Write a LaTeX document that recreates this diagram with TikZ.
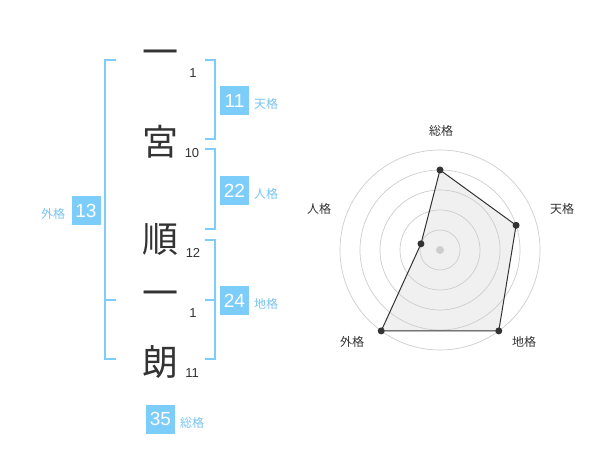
\documentclass[tikz,border=0pt]{standalone}
\usepackage{fontspec}
\setmainfont{Liberation Sans}
\newfontfamily\cjk{Noto Sans CJK JP}
\usetikzlibrary{calc}
\definecolor{kblue}{RGB}{125,205,250}
\definecolor{klabel}{RGB}{120,195,240}
\definecolor{kdark}{RGB}{51,51,51}
\definecolor{kring}{RGB}{205,205,205}
\tikzset{
  bigchar/.style={inner sep=0pt, text=kdark, font=\cjk\fontsize{36}{36}\selectfont},
  strokenum/.style={inner sep=0pt, text=kdark, font=\fontsize{13}{13}\selectfont},
  kakubox/.style={fill=kblue, text=white, minimum size=29pt, inner sep=0pt, font=\fontsize{19}{19}\selectfont},
  kakulabel/.style={inner sep=0pt, text=klabel, font=\cjk\fontsize{12}{12}\selectfont},
  bracket/.style={draw=kblue, line width=2pt},
  ring/.style={draw=kring, line width=0.7pt},
  axislabel/.style={inner sep=0pt, text=kdark, font=\cjk\fontsize{12}{12}\selectfont},
  datadot/.style={circle, fill=kdark, inner sep=0pt, minimum size=7pt},
}
\begin{document}
\begin{tikzpicture}[x=1pt,y=-1pt]
\useasboundingbox (0,0) rectangle (600,470);
% characters
\node[bigchar] (c1) at (160,58) {一};
\node[bigchar] (c2) at (160,142) {宮};
\node[bigchar] (c3) at (160,239) {順};
\node[bigchar] (c4) at (160,299) {一};
\node[bigchar] (c5) at (160,362) {朗};
% stroke counts
\node[strokenum] (n1) at (193,73) {1};
\node[strokenum] (n2) at (192,153) {10};
\node[strokenum] (n3) at (193,253) {12};
\node[strokenum] (n4) at (193,313) {1};
\node[strokenum] (n5) at (192,373) {11};
% brackets
\draw[bracket] (116,60) -- (105,60) -- (105,359) -- (116,359);
\draw[bracket] (105,300) -- (116,300);
\draw[bracket] (205,60) -- (215,60) -- (215,139) -- (205,139);
\draw[bracket] (205,149) -- (215,149) -- (215,229) -- (205,229);
\draw[bracket] (205,240) -- (215,240) -- (215,359) -- (205,359);
\draw[bracket] (205,300) -- (215,300);
% boxes and labels
\node[kakubox] (ten) at (234.5,100.5) {11};
\node[kakulabel] (tenl) at (266,104) {天格};
\node[kakubox] (jin) at (234.5,190.5) {22};
\node[kakulabel] (jinl) at (266,194) {人格};
\node[kakubox] (gai) at (86,210.5) {13};
\node[kakulabel] (gail) at (53,214) {外格};
\node[kakubox] (chi) at (234.5,300.5) {24};
\node[kakulabel] (chil) at (266,304) {地格};
\node[kakubox] (so) at (160.5,419) {35};
\node[kakulabel] (sol) at (192,423) {総格};
% radar
\coordinate (ctr) at (440,250);
\coordinate (pso) at ($(ctr)+(-90:80)$);
\coordinate (pten) at ($(ctr)+(-18:80)$);
\coordinate (pchi) at ($(ctr)+(54:100)$);
\coordinate (pgai) at ($(ctr)+(126:100)$);
\coordinate (pjin) at ($(ctr)+(198:20)$);
\fill[black!6] (pso) -- (pten) -- (pchi) -- (pgai) -- (pjin) -- cycle;
\foreach \r in {20,40,60,80,100} \draw[ring] (ctr) circle (\r);
\fill[kring] (ctr) circle (4);
\draw[kdark, line width=1pt] (pso) -- (pten) -- (pchi) -- (pgai) -- (pjin) -- cycle;
\node[datadot] (dso) at (pso) {};
\node[datadot] (dten) at (pten) {};
\node[datadot] (dchi) at (pchi) {};
\node[datadot] (dgai) at (pgai) {};
\node[datadot] (djin) at (pjin) {};
\node[axislabel] (aso) at (441,131) {総格};
\node[axislabel] (aten) at (562,209) {天格};
\node[axislabel] (ajin) at (319,209) {人格};
\node[axislabel] (agai) at (352,342) {外格};
\node[axislabel] (achi) at (524,342) {地格};
\end{tikzpicture}
\end{document}
